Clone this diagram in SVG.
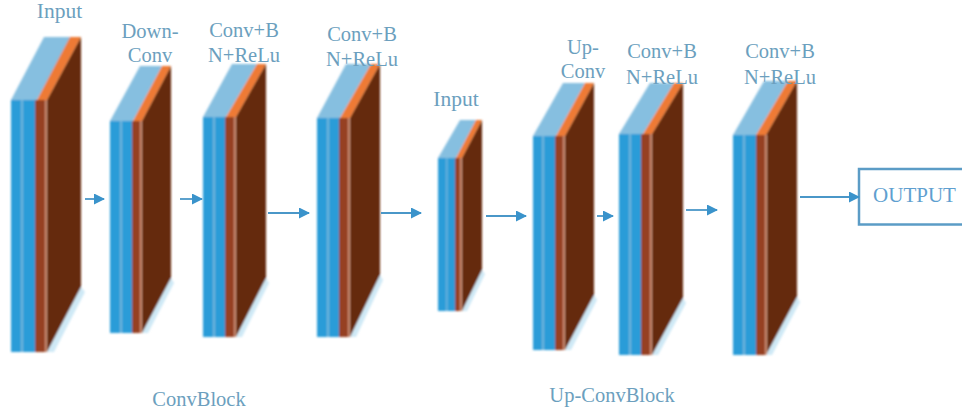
<svg xmlns="http://www.w3.org/2000/svg" width="962" height="413" viewBox="0 0 962 413">
<defs>
<style>
text{font-family:"Liberation Serif","Times New Roman",serif;font-size:20.5px;fill:#6c9fbe;text-anchor:middle}
.blue{fill:#2a9cd8}.stripe{fill:#6fb6dc}.brown{fill:#963f22}.lite{fill:#c98d72}.side{fill:#652a10}.top{fill:#86bfe0}.orange{fill:#ee7a35}.halo{fill:#cfe9f6}
.c{fill:none;stroke:#4a97c8;stroke-width:1.8}
.i{font-size:21.500px}
</style>
<marker id="a" markerWidth="12" markerHeight="12" refX="10" refY="5.500" orient="auto" markerUnits="userSpaceOnUse"><path d="M0 0L11 5.500L0 11Z" fill="#3a93cb"/></marker>
<filter id="s" x="-5%" y="-5%" width="110%" height="110%"><feGaussianBlur stdDeviation="0.8"/></filter>
</defs>
<g id="block1" filter="url(#s)">
<polygon class="halo" points="47,352 54,352 85,292 81,287"/>
<polygon class="top" points="11,100 44,37 72,37 37,100"/>
<polygon class="orange" points="37,100 70,37 81,37 47,100"/>
<polygon class="side" points="47,100 81,37 81,287 47,352"/>
<rect class="blue" x="11" y="100" width="24" height="252"/><rect class="stripe" x="21" y="100" width="2" height="252"/>
<rect class="brown" x="35" y="100" width="10" height="252"/><rect class="lite" x="45" y="100" width="2" height="252"/>
</g>
<g id="block2" filter="url(#s)">
<polygon class="halo" points="142,333 148,333 174,283 171,278"/>
<polygon class="top" points="110,121 140,66 162,66 133,121"/>
<polygon class="orange" points="133,121 162,66 171,66 142,121"/>
<polygon class="side" points="142,121 171,66 171,278 142,333"/>
<rect class="blue" x="110" y="121" width="22" height="212"/><rect class="stripe" x="120" y="121" width="2" height="212"/>
<rect class="brown" x="132" y="121" width="8" height="212"/><rect class="lite" x="140" y="121" width="2" height="212"/>
</g>
<g id="block3" filter="url(#s)">
<polygon class="halo" points="236,337 242,337 269,283 266,278"/>
<polygon class="top" points="203,117 232,64 257,64 226,117"/>
<polygon class="orange" points="226,117 257,64 266,64 236,117"/>
<polygon class="side" points="236,117 266,64 266,278 236,337"/>
<rect class="blue" x="203" y="117" width="22" height="220"/><rect class="stripe" x="213" y="117" width="2" height="220"/>
<rect class="brown" x="225" y="117" width="9" height="220"/><rect class="lite" x="234" y="117" width="2" height="220"/>
</g>
<g id="block4" filter="url(#s)">
<polygon class="halo" points="350,337 356,337 383,280 380,275"/>
<polygon class="top" points="317,118 346,64 371,64 340,118"/>
<polygon class="orange" points="340,118 371,64 380,64 350,118"/>
<polygon class="side" points="350,118 380,64 380,275 350,337"/>
<rect class="blue" x="317" y="118" width="22" height="219"/><rect class="stripe" x="327" y="118" width="2" height="219"/>
<rect class="brown" x="339" y="118" width="9" height="219"/><rect class="lite" x="348" y="118" width="2" height="219"/>
</g>
<g id="block5" filter="url(#s)">
<polygon class="halo" points="462,311 467,311 485,274 482,270"/>
<polygon class="top" points="438,158 460,120 476,120 456,158"/>
<polygon class="orange" points="456,158 476,120 482,120 462,158"/>
<polygon class="side" points="462,158 482,120 482,270 462,311"/>
<rect class="blue" x="438" y="158" width="17" height="153"/><rect class="stripe" x="446" y="158" width="1.500" height="153"/>
<rect class="brown" x="455" y="158" width="5" height="153"/><rect class="lite" x="460" y="158" width="2" height="153"/>
</g>
<g id="block6" filter="url(#s)">
<polygon class="halo" points="565,350 571,350 597,300 594,295"/>
<polygon class="top" points="533,136 563,83 585,83 556,136"/>
<polygon class="orange" points="556,136 585,83 594,83 565,136"/>
<polygon class="side" points="565,136 594,83 594,295 565,350"/>
<rect class="blue" x="533" y="136" width="22" height="214"/><rect class="stripe" x="542" y="136" width="2" height="214"/>
<rect class="brown" x="555" y="136" width="8" height="214"/><rect class="lite" x="563" y="136" width="2" height="214"/>
</g>
<g id="block7" filter="url(#s)">
<polygon class="halo" points="652,355 658,355 686,303 683,298"/>
<polygon class="top" points="619,134 650,83 674,83 643,134"/>
<polygon class="orange" points="643,134 674,83 683,83 652,134"/>
<polygon class="side" points="652,134 683,83 683,298 652,355"/>
<rect class="blue" x="619" y="134" width="22" height="221"/><rect class="stripe" x="629" y="134" width="2" height="221"/>
<rect class="brown" x="641" y="134" width="9" height="221"/><rect class="lite" x="650" y="134" width="2" height="221"/>
</g>
<g id="block8" filter="url(#s)">
<polygon class="halo" points="766,355 772,355 800,302 797,297"/>
<polygon class="top" points="733,135 764,81 788,81 756,135"/>
<polygon class="orange" points="756,135 788,81 797,81 766,135"/>
<polygon class="side" points="766,135 797,81 797,297 766,355"/>
<rect class="blue" x="733" y="135" width="23" height="220"/><rect class="stripe" x="743" y="135" width="2" height="220"/>
<rect class="brown" x="756" y="135" width="9" height="220"/><rect class="lite" x="765" y="135" width="2" height="220"/>
</g>
<g id="output"><rect x="859" y="169" width="110" height="55.500" fill="#fff" stroke="#5b9cc6" stroke-width="2.500"/>
<text x="914.500" y="202" style="fill:#5f9fd0;font-size:21px">OUTPUT</text></g>
<g id="connectors">
<line class="c" x1="85" y1="199" x2="104" y2="199" marker-end="url(#a)"/>
<line class="c" x1="180" y1="199" x2="202" y2="199" marker-end="url(#a)"/>
<line class="c" x1="268" y1="213" x2="309" y2="213" marker-end="url(#a)"/>
<line class="c" x1="381" y1="213" x2="421" y2="213" marker-end="url(#a)"/>
<line class="c" x1="486" y1="216" x2="526" y2="216" marker-end="url(#a)"/>
<line class="c" x1="597" y1="216" x2="613" y2="216" marker-end="url(#a)"/>
<line class="c" x1="686" y1="210" x2="717" y2="210" marker-end="url(#a)"/>
<line class="c" x1="800" y1="197" x2="859" y2="197" marker-end="url(#a)"/>
</g>
<g id="labels">
<text class="i" x="59.500" y="18">Input</text>
<text x="150" y="38">Down-</text><text x="150" y="62">Conv</text>
<text x="244" y="37">Conv+B</text><text x="244" y="62">N+ReLu</text>
<text x="362" y="41">Conv+B</text><text x="362" y="66">N+ReLu</text>
<text class="i" x="456" y="106">Input</text>
<text x="583" y="54">Up-</text><text x="583" y="78">Conv</text>
<text x="662" y="58">Conv+B</text><text x="662" y="84">N+ReLu</text>
<text x="780" y="58">Conv+B</text><text x="780" y="84">N+ReLu</text>
<text x="199" y="406">ConvBlock</text>
<text x="612" y="402">Up-ConvBlock</text>
</g>
</svg>
